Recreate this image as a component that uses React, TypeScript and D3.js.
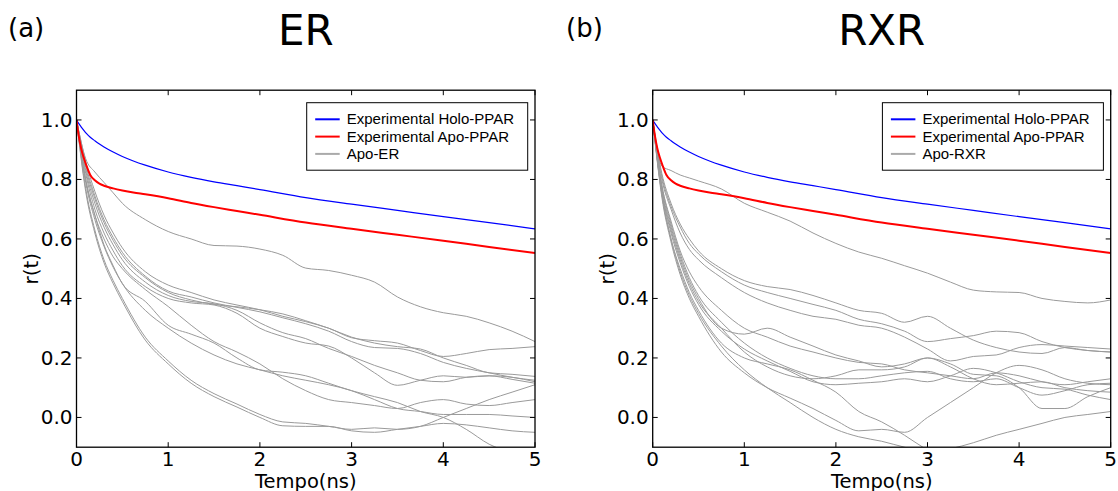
import React from 'react'
import * as d3 from 'd3'

const W = 1118
const H = 491

// experimental curves (same in both panels)
const expTime = [0, 0.02, 0.05, 0.08, 0.11, 0.15, 0.2, 0.25, 0.3, 0.4, 0.5, 0.62, 0.75, 1, 1.25, 1.5, 1.75, 2, 2.5, 3, 3.5, 4, 4.5, 5]
const holoPPAR = [1.0, 0.99, 0.977, 0.965, 0.954, 0.942, 0.93, 0.919, 0.909, 0.892, 0.877, 0.862, 0.848, 0.825, 0.807, 0.792, 0.779, 0.766, 0.739, 0.717, 0.696, 0.675, 0.655, 0.634]
const apoPPAR = [1.0, 0.955, 0.905, 0.872, 0.845, 0.815, 0.797, 0.786, 0.779, 0.77, 0.763, 0.756, 0.75, 0.737, 0.721, 0.707, 0.694, 0.681, 0.655, 0.634, 0.614, 0.594, 0.573, 0.553]

// simulation time grid
const simTime = [0, 0.1, 0.2, 0.3, 0.4, 0.5, 0.75, 1, 1.25, 1.5, 1.75, 2, 2.25, 2.5, 2.75, 3, 3.25, 3.5, 3.75, 4, 4.25, 4.5, 4.75, 5]

const apoER = [
  [1.0, 0.87, 0.825, 0.79, 0.755, 0.72, 0.665, 0.625, 0.6, 0.578, 0.576, 0.566, 0.545, 0.502, 0.494, 0.478, 0.455, 0.405, 0.372, 0.352, 0.34, 0.318, 0.29, 0.255],
  [1.0, 0.86, 0.76, 0.68, 0.62, 0.57, 0.49, 0.445, 0.42, 0.395, 0.378, 0.362, 0.34, 0.322, 0.3, 0.268, 0.258, 0.25, 0.225, 0.205, 0.215, 0.228, 0.232, 0.238],
  [1.0, 0.85, 0.745, 0.665, 0.605, 0.555, 0.475, 0.425, 0.405, 0.385, 0.37, 0.355, 0.335, 0.315, 0.29, 0.255, 0.235, 0.232, 0.215, 0.185, 0.165, 0.15, 0.135, 0.125],
  [1.0, 0.84, 0.735, 0.655, 0.595, 0.545, 0.47, 0.42, 0.395, 0.38, 0.372, 0.362, 0.348, 0.325, 0.3, 0.27, 0.25, 0.238, 0.23, 0.2, 0.175, 0.15, 0.145, 0.138],
  [1.0, 0.83, 0.72, 0.64, 0.58, 0.53, 0.455, 0.41, 0.39, 0.382, 0.36, 0.318, 0.285, 0.265, 0.232, 0.205, 0.175, 0.15, 0.125, 0.12, 0.135, 0.14, 0.128, 0.115],
  [1.0, 0.82, 0.7, 0.62, 0.56, 0.51, 0.44, 0.4, 0.385, 0.378, 0.35, 0.3, 0.272, 0.25, 0.24, 0.2, 0.15, 0.108, 0.125, 0.14, 0.135, 0.14, 0.135, 0.12],
  [1.0, 0.8, 0.68, 0.58, 0.51, 0.45, 0.39, 0.31, 0.28, 0.25, 0.2, 0.16, 0.152, 0.14, 0.115, 0.09, 0.07, 0.05, 0.02, 0.0, -0.04, -0.09, -0.12, -0.15],
  [1.0, 0.79, 0.665, 0.575, 0.505, 0.45, 0.36, 0.3, 0.25, 0.21, 0.18, 0.16, 0.14, 0.125, 0.11, 0.09, 0.06, 0.03, 0.02, 0.01, 0.01, 0.01, 0.005, 0.0],
  [1.0, 0.8, 0.68, 0.6, 0.54, 0.5, 0.43, 0.373, 0.31, 0.255, 0.22, 0.18, 0.13, 0.09, 0.06, 0.05, 0.04, 0.03, 0.05, 0.06, 0.045, 0.04, 0.05, 0.06],
  [1.0, 0.77, 0.63, 0.53, 0.46, 0.4, 0.27, 0.19, 0.125, 0.08, 0.045, 0.01, -0.015, -0.02, -0.03, -0.04, -0.035, -0.04, -0.03, 0.0, 0.03, 0.06, 0.085, 0.11],
  [1.0, 0.76, 0.62, 0.52, 0.45, 0.39, 0.26, 0.18, 0.115, 0.07, 0.035, 0.0, -0.028, -0.03, -0.03, -0.045, -0.05, -0.04, -0.03, -0.02, -0.025, -0.035, -0.045, -0.05],
]

const apoRXR = [
  [1.0, 0.845, 0.83, 0.815, 0.805, 0.795, 0.768, 0.72, 0.69, 0.66, 0.62, 0.585, 0.556, 0.535, 0.51, 0.485, 0.455, 0.428, 0.422, 0.42, 0.4, 0.39, 0.385, 0.395],
  [1.0, 0.82, 0.72, 0.65, 0.6, 0.56, 0.5, 0.46, 0.44, 0.43, 0.41, 0.385, 0.36, 0.35, 0.32, 0.34, 0.3, 0.26, 0.235, 0.22, 0.215, 0.235, 0.225, 0.22],
  [1.0, 0.81, 0.71, 0.64, 0.585, 0.55, 0.49, 0.445, 0.42, 0.4, 0.38, 0.36, 0.33, 0.315, 0.29, 0.255, 0.265, 0.275, 0.29, 0.285, 0.255, 0.235, 0.225, 0.22],
  [1.0, 0.8, 0.7, 0.62, 0.565, 0.53, 0.47, 0.42, 0.385, 0.36, 0.34, 0.33, 0.31, 0.3, 0.27, 0.23, 0.19, 0.205, 0.21, 0.235, 0.245, 0.24, 0.235, 0.23],
  [1.0, 0.78, 0.66, 0.56, 0.49, 0.44, 0.36, 0.3, 0.27, 0.24, 0.22, 0.2, 0.185, 0.18, 0.16, 0.15, 0.14, 0.13, 0.15, 0.14, 0.12, 0.11, 0.12, 0.13],
  [1.0, 0.77, 0.64, 0.54, 0.46, 0.4, 0.3, 0.28, 0.3, 0.27, 0.24, 0.21, 0.19, 0.17, 0.18, 0.2, 0.17, 0.13, 0.11, 0.115, 0.12, 0.1, 0.09, 0.085],
  [1.0, 0.78, 0.65, 0.55, 0.47, 0.41, 0.32, 0.25, 0.2, 0.165, 0.14, 0.13, 0.13, 0.14, 0.15, 0.155, 0.13, 0.12, 0.13, 0.1, 0.075, 0.09, 0.11, 0.115],
  [1.0, 0.76, 0.62, 0.52, 0.44, 0.38, 0.29, 0.23, 0.19, 0.155, 0.12, 0.11, 0.115, 0.12, 0.13, 0.12, 0.14, 0.165, 0.15, 0.12, 0.1, 0.095, 0.075, 0.06],
  [1.0, 0.76, 0.63, 0.53, 0.45, 0.39, 0.3, 0.22, 0.17, 0.14, 0.13, 0.14, 0.16, 0.16, 0.17, 0.2, 0.18, 0.145, 0.14, 0.1, 0.03, 0.03, 0.07, 0.1],
  [1.0, 0.75, 0.6, 0.5, 0.42, 0.36, 0.25, 0.2, 0.18, 0.16, 0.125, 0.085, 0.02, -0.015, -0.06, -0.11, -0.15, -0.18, -0.2, -0.22, -0.24, -0.26, -0.28, -0.3],
  [1.0, 0.74, 0.59, 0.48, 0.4, 0.34, 0.22, 0.15, 0.1, 0.065, 0.03, -0.01, -0.045, -0.04, -0.05, 0.0, 0.05, 0.1, 0.15, 0.175, 0.16, 0.13, 0.115, 0.11],
  [1.0, 0.75, 0.6, 0.49, 0.41, 0.35, 0.24, 0.16, 0.1, 0.05, 0.0, -0.04, -0.065, -0.08, -0.1, -0.115, -0.105, -0.085, -0.06, -0.04, -0.02, 0.0, 0.01, 0.02],
]

const xTicks = [0, 1, 2, 3, 4, 5]
const yTicks = [0, 0.2, 0.4, 0.6, 0.8, 1.0]

const tickFont = 'DejaVu Sans, sans-serif'

function Panel({ id, left, right, tag, tagX, title, sims, simLabel }) {
  const x = d3.scaleLinear().domain([0, 5]).range([left, right])
  const y = d3.scaleLinear().domain([-0.1, 1.1]).range([447.2, 90.2])
  const top = y(1.1)
  const bottom = y(-0.1)
  const line = d3.line().x(d => x(d[0])).y(d => y(d[1])).curve(d3.curveMonotoneX)
  const simPath = vals => line(simTime.map((t, i) => [t, vals[i]]))
  const expPath = vals => line(expTime.map((t, i) => [t, vals[i]]))
  const cx = (left + right) / 2
  const cy = (top + bottom) / 2
  const lgX = right - 228.3
  const lgY = 102.7
  const legend = [
    { label: 'Experimental Holo-PPAR', color: '#0000ff', w: 2 },
    { label: 'Experimental Apo-PPAR', color: '#ff0000', w: 2 },
    { label: simLabel, color: '#aaaaaa', w: 2 },
  ]
  return (
    <g>
      <defs>
        <clipPath id={'clip-' + id}>
          <rect x={left} y={top} width={right - left} height={bottom - top} />
        </clipPath>
      </defs>
      <text x={tagX} y={37} fontFamily={tickFont} fontSize={26}>{tag}</text>
      <text x={cx} y={45} fontFamily={tickFont} fontSize={42} textAnchor="middle">{title}</text>

      <g clipPath={'url(#clip-' + id + ')'}>
        {sims.map((s, i) => (
          <path key={i} d={simPath(s)} fill="none" stroke="#9a9a9a" strokeWidth={1} />
        ))}
        <path d={expPath(holoPPAR)} fill="none" stroke="#0000ff" strokeWidth={1.2} />
        <path d={expPath(apoPPAR)} fill="none" stroke="#ff0000" strokeWidth={2} />
      </g>

      {/* ticks, inward on all sides */}
      {xTicks.map(t => (
        <g key={'x' + t}>
          <line x1={x(t)} x2={x(t)} y1={bottom} y2={bottom - 5} stroke="#000" />
          <line x1={x(t)} x2={x(t)} y1={top} y2={top + 5} stroke="#000" />
          <text x={x(t)} y={bottom + 19} fontFamily={tickFont} fontSize={20} textAnchor="middle">{t}</text>
        </g>
      ))}
      {yTicks.map(t => (
        <g key={'y' + t}>
          <line x1={left} x2={left + 5} y1={y(t)} y2={y(t)} stroke="#000" />
          <line x1={right} x2={right - 5} y1={y(t)} y2={y(t)} stroke="#000" />
          <text x={left - 4} y={y(t) + 7} fontFamily={tickFont} fontSize={20} textAnchor="end">{t.toFixed(1)}</text>
        </g>
      ))}
      <rect x={left} y={top} width={right - left} height={bottom - top} fill="none" stroke="#000" strokeWidth={1.3} />

      <text x={cx} y={487.5} fontFamily={tickFont} fontSize={19.5} textAnchor="middle">Tempo(ns)</text>
      <text transform={`translate(${left - 39},${cy}) rotate(-90)`} fontFamily={tickFont} fontSize={20} textAnchor="middle">r(t)</text>

      <rect x={lgX} y={lgY} width={221} height={67.5} fill="#fff" stroke="#000" strokeWidth={1} />
      {legend.map((l, i) => (
        <g key={l.label}>
          <line x1={lgX + 8.5} x2={lgX + 33} y1={lgY + 16.6 + i * 17.3} y2={lgY + 16.6 + i * 17.3} stroke={l.color} strokeWidth={l.w} />
          <text x={lgX + 40} y={lgY + 21.6 + i * 17.3} fontFamily="Liberation Sans, Arial, sans-serif" fontSize={15}>{l.label}</text>
        </g>
      ))}
    </g>
  )
}

export default function App() {
  return (
    <div style={{ position: 'absolute', left: 0, top: 0 }}>
      <svg width={W} height={H} style={{ display: 'block', background: '#fff' }}>
        <Panel id="er" left={76.5} right={535} tag="(a)" tagX={8} title="ER" sims={apoER} simLabel="Apo-ER" />
        <Panel id="rxr" left={652.7} right={1110.7} tag="(b)" tagX={566} title="RXR" sims={apoRXR} simLabel="Apo-RXR" />
      </svg>
    </div>
  )
}
